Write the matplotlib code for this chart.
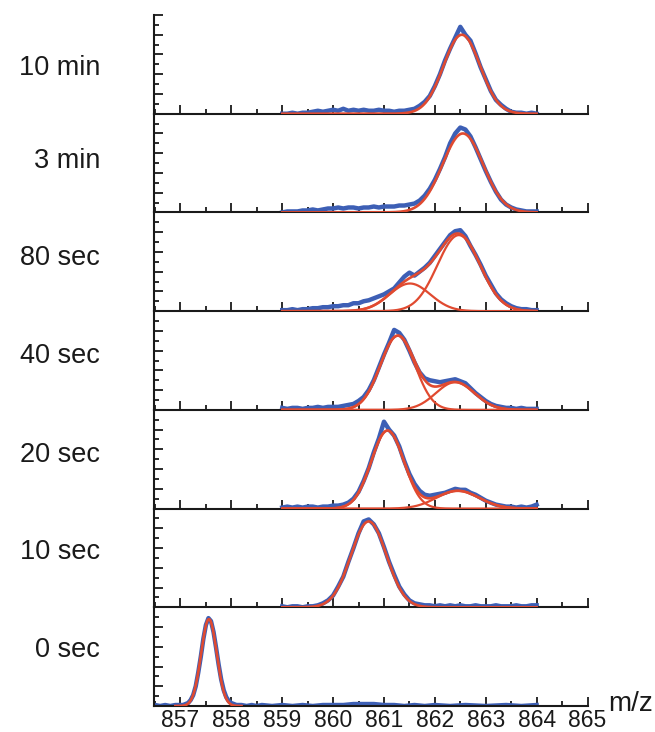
import numpy as np
import matplotlib.pyplot as plt
from matplotlib.ticker import MultipleLocator

plt.rcParams['font.family'] = ['Liberation Sans', 'DejaVu Sans']
plt.rcParams['xtick.labelsize'] = 16.5
plt.rcParams['xtick.major.pad'] = 2.5

labels = ['10 min', '3 min', '80 sec', '40 sec', '20 sec', '10 sec', '0 sec']

# measured spectra, 859-864 sampled every 0.1 m/z
mz = np.round(np.arange(859.0, 864.01, 0.1), 1)

int_10min = [0.00, 0.00, 0.01, 0.00, 0.01, 0.01, 0.02, 0.03, 0.02, 0.03,
             0.04, 0.03, 0.05, 0.03, 0.04, 0.03, 0.04, 0.03, 0.03, 0.04,
             0.03, 0.03, 0.02, 0.03, 0.03, 0.04, 0.05, 0.08, 0.12, 0.18,
             0.28, 0.40, 0.54, 0.66, 0.77, 0.88, 0.80, 0.74, 0.61, 0.47,
             0.35, 0.23, 0.14, 0.09, 0.05, 0.02, 0.01, 0.01, 0.00, 0.01, 0.00]
int_3min = [0.00, 0.01, 0.01, 0.01, 0.02, 0.02, 0.03, 0.02, 0.03, 0.04,
            0.04, 0.05, 0.04, 0.05, 0.05, 0.04, 0.05, 0.05, 0.06, 0.05,
            0.06, 0.06, 0.06, 0.07, 0.07, 0.08, 0.09, 0.12, 0.17, 0.24,
            0.33, 0.44, 0.56, 0.70, 0.80, 0.86, 0.84, 0.77, 0.66, 0.54,
            0.42, 0.31, 0.21, 0.13, 0.08, 0.05, 0.03, 0.02, 0.01, 0.01, 0.01]
int_80s = [0.01, 0.01, 0.02, 0.01, 0.02, 0.02, 0.03, 0.03, 0.04, 0.04,
           0.05, 0.05, 0.06, 0.06, 0.08, 0.08, 0.10, 0.11, 0.13, 0.15,
           0.17, 0.20, 0.23, 0.29, 0.35, 0.39, 0.36, 0.40, 0.44, 0.49,
           0.56, 0.63, 0.70, 0.77, 0.81, 0.82, 0.76, 0.66, 0.57, 0.47,
           0.36, 0.27, 0.18, 0.12, 0.08, 0.05, 0.03, 0.02, 0.02, 0.01, 0.01]
int_40s = [0.02, 0.01, 0.02, 0.02, 0.01, 0.02, 0.02, 0.03, 0.02, 0.03,
           0.03, 0.03, 0.04, 0.05, 0.06, 0.09, 0.13, 0.20, 0.30, 0.43,
           0.56, 0.68, 0.81, 0.78, 0.71, 0.60, 0.48, 0.38, 0.32, 0.30,
           0.29, 0.28, 0.29, 0.30, 0.31, 0.29, 0.27, 0.22, 0.17, 0.13,
           0.09, 0.06, 0.04, 0.03, 0.02, 0.02, 0.01, 0.02, 0.01, 0.01, 0.01]
int_20s = [0.01, 0.02, 0.01, 0.02, 0.01, 0.02, 0.02, 0.01, 0.02, 0.02,
           0.03, 0.03, 0.04, 0.06, 0.10, 0.17, 0.28, 0.41, 0.57, 0.71,
           0.88, 0.80, 0.74, 0.63, 0.48, 0.35, 0.25, 0.18, 0.14, 0.13,
           0.14, 0.15, 0.16, 0.18, 0.20, 0.19, 0.19, 0.16, 0.14, 0.11,
           0.08, 0.06, 0.04, 0.03, 0.02, 0.02, 0.01, 0.02, 0.01, 0.02, 0.04]
int_10s = [0.01, 0.00, 0.01, 0.01, 0.00, 0.01, 0.01, 0.02, 0.04, 0.07,
           0.12, 0.21, 0.31, 0.46, 0.60, 0.75, 0.87, 0.89, 0.84, 0.75,
           0.61, 0.46, 0.33, 0.21, 0.13, 0.07, 0.04, 0.03, 0.02, 0.02,
           0.01, 0.02, 0.01, 0.02, 0.01, 0.02, 0.01, 0.01, 0.02, 0.01,
           0.01, 0.01, 0.02, 0.01, 0.01, 0.01, 0.02, 0.01, 0.01, 0.02, 0.02]

# the 0 sec spectrum covers the whole window, finer around the narrow peak
mz_0s = [856.5, 856.6, 856.7, 856.8, 856.9,
         857.0, 857.05, 857.1, 857.15, 857.2, 857.25, 857.3, 857.35, 857.4,
         857.45, 857.5, 857.55, 857.6, 857.65, 857.7, 857.75, 857.8, 857.85,
         857.9, 857.95, 858.0, 858.05, 858.1,
         858.2, 858.3, 858.4, 858.5, 858.6, 858.8,
         859.0, 859.2, 859.4, 859.6, 859.8, 860.0, 860.2, 860.4, 860.6, 860.8,
         861.0, 861.2, 861.4, 861.6, 861.8, 862.0,
         862.3, 862.6, 863.0, 863.4, 863.7, 864.0]
int_0s = [0.01, 0.00, 0.01, 0.00, 0.01,
          0.01, 0.01, 0.02, 0.03, 0.06, 0.11, 0.20, 0.34, 0.50,
          0.68, 0.82, 0.89, 0.86, 0.75, 0.59, 0.42, 0.27, 0.16,
          0.09, 0.05, 0.03, 0.02, 0.01,
          0.01, 0.00, 0.01, 0.00, 0.01, 0.00,
          0.01, 0.00, 0.01, 0.00, 0.01, 0.01, 0.01, 0.02, 0.02, 0.02,
          0.01, 0.01, 0.00, 0.01, 0.00, 0.01,
          0.00, 0.01, 0.00, 0.01, 0.00, 0.01]

spectra = [(mz, int_10min), (mz, int_3min), (mz, int_80s), (mz, int_40s),
           (mz, int_20s), (mz, int_10s), (mz_0s, int_0s)]

# gaussian fit components per time point: centre, sigma, height
fit_centers = [[862.53], [862.55], [862.47, 861.51], [861.27, 862.40],
               [861.07, 862.45], [860.70], [857.56]]
fit_widths = [[0.36], [0.40], [0.42, 0.40], [0.34, 0.38],
              [0.32, 0.42], [0.35], [0.153]]
fit_heights = [[0.80], [0.80], [0.77, 0.28], [0.75, 0.28],
               [0.79, 0.18], [0.87], [0.88]]
fit_ranges = [(859.0, 864.0)] * 6 + [(856.9, 858.2)]

blue = '#3d5fb5'
red = '#e04a30'
ink = '#1a1a1a'

W, H = 655, 732
fig = plt.figure(figsize=(W / 100, H / 100), dpi=100)

top_px, bot_px = 15, 706
left_px, right_px = 154, 587.5
n = len(labels)
ph = (bot_px - top_px) / n
label_y = [68, 161, 258, 356, 455, 552, 650]

for i in range(n):
    y0 = 1 - (top_px + (i + 1) * ph) / H
    ax = fig.add_axes([left_px / W, y0, (right_px - left_px) / W, ph / H])

    x, y = spectra[i]
    ax.plot(x, y, color=blue, lw=3.2, solid_joinstyle='round', zorder=2)

    lo, hi = fit_ranges[i]
    xf = np.linspace(lo, hi, 600)
    comps = [a * np.exp(-(xf - c) ** 2 / (2 * s ** 2))
             for c, s, a in zip(fit_centers[i], fit_widths[i], fit_heights[i])]
    if len(comps) > 1:
        for comp in comps:
            ax.plot(xf, comp, color=red, lw=1.6, zorder=3)
    ax.plot(xf, np.sum(comps, axis=0), color=red, lw=1.9, zorder=3)

    ax.set_xlim(856.48, 865)
    ax.set_ylim(0, 1)
    ax.patch.set_alpha(0)

    for side in ['top', 'right']:
        ax.spines[side].set_visible(False)
    for side in ['left', 'bottom']:
        ax.spines[side].set_linewidth(1.5)
        ax.spines[side].set_color(ink)

    ax.xaxis.set_major_locator(MultipleLocator(1))
    ax.xaxis.set_minor_locator(MultipleLocator(0.5))
    ax.yaxis.set_major_locator(MultipleLocator(0.2))
    ax.yaxis.set_minor_locator(MultipleLocator(0.1))
    ax.tick_params(which='both', direction='in', colors=ink, width=1.3)
    ax.tick_params(which='major', length=6.5)
    ax.tick_params(which='minor', length=3.5)
    ax.tick_params(axis='y', labelleft=False)
    if i < n - 1:
        ax.tick_params(axis='x', labelbottom=False)

    fig.text(100 / W, 1 - label_y[i] / H, labels[i], ha='right', va='center',
             fontsize=19.5, color=ink)

fig.text(608 / W, 1 - 711 / H, 'm/z', fontsize=20, va='baseline', color=ink)

fig.savefig('out.png', dpi=100)
